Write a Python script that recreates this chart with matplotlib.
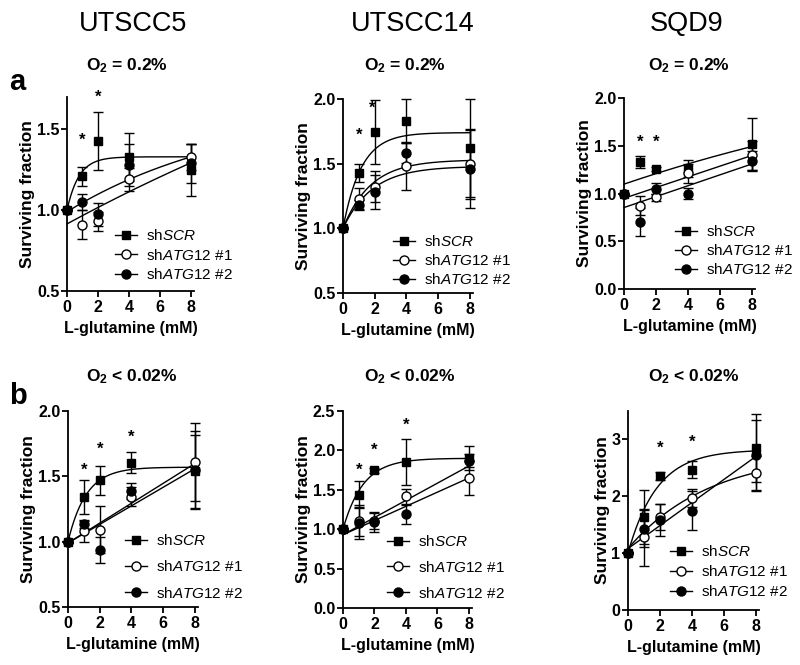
import numpy as np
import matplotlib
matplotlib.use('Agg')
import matplotlib.pyplot as plt

plt.rcParams['font.family'] = ['Liberation Sans', 'DejaVu Sans']
plt.rcParams['mathtext.fontset'] = 'custom'
plt.rcParams['mathtext.rm'] = 'Liberation Sans'
plt.rcParams['mathtext.it'] = 'Liberation Sans:italic'
plt.rcParams['mathtext.bf'] = 'Liberation Sans:bold'
plt.rcParams['mathtext.default'] = 'regular'

# glutamine doses (mM)
x = [0, 1, 2, 4, 8]
cell_lines = ['UTSCC5', 'UTSCC14', 'SQD9']
conditions = ['O$_2$ = 0.2%', 'O$_2$ < 0.02%']
series_labels = ['sh$\\mathit{SCR}$', 'sh$\\mathit{ATG12}$ #1', 'sh$\\mathit{ATG12}$ #2']

# surviving fraction (mean) and error, row a (0.2% O2)
utscc5_a_scr = [1.0, 1.21, 1.43, 1.33, 1.25]
utscc5_a_scr_err = [0, 0.06, 0.18, 0.15, 0.16]
utscc5_a_atg1 = [1.0, 0.91, 0.93, 1.19, 1.33]
utscc5_a_atg1_err = [0, 0.09, 0.06, 0.07, 0.08]
utscc5_a_atg2 = [1.0, 1.05, 0.975, 1.28, 1.29]
utscc5_a_atg2_err = [0, 0.05, 0.07, 0.13, 0.12]

utscc14_a_scr = [1.0, 1.43, 1.745, 1.83, 1.62]
utscc14_a_scr_err = [0, 0.07, 0.25, 0.17, 0.38]
utscc14_a_atg1 = [1.0, 1.23, 1.32, 1.48, 1.50]
utscc14_a_atg1_err = [0, 0.08, 0.12, 0.18, 0.27]
utscc14_a_atg2 = [1.0, 1.18, 1.28, 1.585, 1.46]
utscc14_a_atg2_err = [0, 0.04, 0.13, 0.08, 0.30]

sqd9_a_scr = [1.0, 1.33, 1.26, 1.26, 1.52]
sqd9_a_scr_err = [0, 0.06, 0.02, 0.09, 0.27]
sqd9_a_atg1 = [1.0, 0.87, 0.96, 1.21, 1.40]
sqd9_a_atg1_err = [0, 0.10, 0.04, 0.10, 0.15]
sqd9_a_atg2 = [1.0, 0.70, 1.05, 1.00, 1.34]
sqd9_a_atg2_err = [0, 0.15, 0.06, 0.06, 0.10]

# row b (<0.02% O2)
utscc5_b_scr = [1.0, 1.34, 1.47, 1.605, 1.54]
utscc5_b_scr_err = [0, 0.13, 0.11, 0.08, 0.28]
utscc5_b_atg1 = [1.0, 1.08, 1.09, 1.345, 1.61]
utscc5_b_atg1_err = [0, 0.08, 0.18, 0.07, 0.30]
utscc5_b_atg2 = [1.0, 1.135, 0.936, 1.388, 1.55]
utscc5_b_atg2_err = [0, 0.03, 0.10, 0.06, 0.30]

utscc14_b_scr = [1.0, 1.436, 1.746, 1.85, 1.90]
utscc14_b_scr_err = [0, 0.17, 0.03, 0.29, 0.15]
utscc14_b_atg1 = [1.0, 1.11, 1.10, 1.415, 1.65]
utscc14_b_atg1_err = [0, 0.20, 0.10, 0.10, 0.22]
utscc14_b_atg2 = [1.0, 1.076, 1.09, 1.19, 1.87]
utscc14_b_atg2_err = [0, 0.20, 0.13, 0.12, 0.08]

sqd9_b_scr = [1.0, 1.635, 2.35, 2.47, 2.85]
sqd9_b_scr_err = [0, 0.47, 0.07, 0.15, 0.60]
sqd9_b_atg1 = [1.0, 1.28, 1.635, 1.97, 2.41]
sqd9_b_atg1_err = [0, 0.50, 0.23, 0.15, 0.30]
sqd9_b_atg2 = [1.0, 1.43, 1.58, 1.75, 2.72]
sqd9_b_atg2_err = [0, 0.33, 0.28, 0.35, 0.62]

# curve fits: ('exp', y0, plateau, k) or ('lin', y0, slope)
fits_utscc5_a = [('exp', 1.0, 1.33, 1.3), ('exp', 0.99, 1.657, 0.089), ('exp', 0.915, 3.0, 0.025)]
fits_utscc14_a = [('exp', 1.0, 1.74, 0.87), ('exp', 1.0, 1.53, 0.57), ('exp', 1.0, 1.48, 0.54)]
fits_sqd9_a = [('exp', 1.098, 2.6, 0.038), ('lin', 0.95, 0.056), ('lin', 0.853, 0.057)]
fits_utscc5_b = [('exp', 1.0, 1.57, 0.87), ('lin', 0.99, 0.076), ('lin', 0.99, 0.071)]
fits_utscc14_b = [('exp', 1.0, 1.9, 0.78), ('lin', 0.93, 0.09), ('lin', 0.93, 0.109)]
fits_sqd9_b = [('exp', 1.0, 2.82, 0.55), ('exp', 1.08, 2.77, 0.196), ('lin', 1.08, 0.2025)]

# significance stars
stars_utscc5_a = ([1, 2], [1.43, 1.70])
stars_utscc14_a = ([1, 1.85], [1.72, 1.93])
stars_sqd9_a = ([1, 2], [1.54, 1.54])
stars_utscc5_b = ([1, 2, 4], [1.55, 1.71, 1.80])
stars_utscc14_b = ([1, 2, 4], [1.75, 2.0, 2.32])
stars_sqd9_b = ([2, 4], [2.84, 2.95])

W, H = 800, 665
fig = plt.figure(figsize=(W / 100, H / 100), dpi=100)


def add_ax(l, r, b, t):
    return fig.add_axes([l / W, 1 - b / H, (r - l) / W, (b - t) / H])


def fit_curve(p, xs):
    if p[0] == 'exp':
        return p[1] + (p[2] - p[1]) * (1 - np.exp(-p[3] * xs))
    return p[1] + p[2] * xs


panels = [
    dict(box=(67, 194, 291, 97), ylim=(0.5, 1.7), yticks=[0.5, 1.0, 1.5], fmt='%.1f',
         data=[(utscc5_a_scr, utscc5_a_scr_err), (utscc5_a_atg1, utscc5_a_atg1_err), (utscc5_a_atg2, utscc5_a_atg2_err)],
         fits=fits_utscc5_a, stars=stars_utscc5_a, leg=(115, 237, 19)),
    dict(box=(343, 473, 293, 99), ylim=(0.5, 2.0), yticks=[0.5, 1.0, 1.5, 2.0], fmt='%.1f',
         data=[(utscc14_a_scr, utscc14_a_scr_err), (utscc14_a_atg1, utscc14_a_atg1_err), (utscc14_a_atg2, utscc14_a_atg2_err)],
         fits=fits_utscc14_a, stars=stars_utscc14_a, leg=(393, 243, 18.5)),
    dict(box=(624, 755, 289, 98), ylim=(0.0, 2.0), yticks=[0.0, 0.5, 1.0, 1.5, 2.0], fmt='%.1f',
         data=[(sqd9_a_scr, sqd9_a_scr_err), (sqd9_a_atg1, sqd9_a_atg1_err), (sqd9_a_atg2, sqd9_a_atg2_err)],
         fits=fits_sqd9_a, stars=stars_sqd9_a, leg=(675, 233, 18.5)),
    dict(box=(68, 198, 607, 411), ylim=(0.5, 2.0), yticks=[0.5, 1.0, 1.5, 2.0], fmt='%.1f',
         data=[(utscc5_b_scr, utscc5_b_scr_err), (utscc5_b_atg1, utscc5_b_atg1_err), (utscc5_b_atg2, utscc5_b_atg2_err)],
         fits=fits_utscc5_b, stars=stars_utscc5_b, leg=(125, 542, 25.5)),
    dict(box=(343, 472, 608, 411), ylim=(0.0, 2.5), yticks=[0.0, 0.5, 1.0, 1.5, 2.0, 2.5], fmt='%.1f',
         data=[(utscc14_b_scr, utscc14_b_scr_err), (utscc14_b_atg1, utscc14_b_atg1_err), (utscc14_b_atg2, utscc14_b_atg2_err)],
         fits=fits_utscc14_b, stars=stars_utscc14_b, leg=(387, 543, 25)),
    dict(box=(628, 759, 610, 411), ylim=(0.0, 3.5), yticks=[0, 1, 2, 3], fmt='%d',
         data=[(sqd9_b_scr, sqd9_b_scr_err), (sqd9_b_atg1, sqd9_b_atg1_err), (sqd9_b_atg2, sqd9_b_atg2_err)],
         fits=fits_sqd9_b, stars=stars_sqd9_b, leg=(670, 553, 19.5)),
]

styles = [dict(marker='s', mfc='black', ms=6),
          dict(marker='o', mfc='white', ms=6.5),
          dict(marker='o', mfc='black', ms=6.5)]

xs = np.linspace(0, 8, 200)
fs_tick = 11.5
fs_lab = 11.5
fs_leg = 11
for p in panels:
    l, r, b, t = p['box']
    ax = add_ax(l, r, b, t)
    handles = []
    for (y, e), st, f, lab in zip(p['data'], styles, p['fits'], series_labels):
        ax.plot(xs, fit_curve(f, xs), color='black', lw=1.0, clip_on=False)
        ax.errorbar(x, y, yerr=e, fmt='none', ecolor='black', elinewidth=1.0,
                    capsize=3.5, capthick=1.0, clip_on=False)
        ax.plot(x, y, ls='none', marker=st['marker'], mfc=st['mfc'], mec='black',
                mew=1.0, ms=st['ms'], clip_on=False, zorder=4)
        h, = ax.plot([], [], color='black', lw=1.0, marker=st['marker'], mfc=st['mfc'],
                     mec='black', mew=1.0, ms=st['ms'])
        handles.append(h)
    sx, sy = p['stars']
    for xi, yi in zip(sx, sy):
        ax.text(xi, yi, '*', ha='center', va='center', fontsize=12, fontweight='bold',
                clip_on=False)
    ax.set_xlim(0, 8.2)
    ax.set_ylim(*p['ylim'])
    ax.set_xticks([0, 2, 4, 6, 8])
    ax.set_yticks(p['yticks'])
    ax.yaxis.set_major_formatter(matplotlib.ticker.FormatStrFormatter(p['fmt']))
    for s in ['top', 'right']:
        ax.spines[s].set_visible(False)
    for s in ['left', 'bottom']:
        ax.spines[s].set_linewidth(1.3)
    ax.tick_params(direction='out', length=4, width=1.3, labelsize=fs_tick, pad=1.5)
    ax.tick_params(axis='x', pad=2.5)
    for lbl in ax.get_xticklabels() + ax.get_yticklabels():
        lbl.set_fontweight('bold')
    ax.set_xlabel('L-glutamine (mM)', fontsize=fs_lab, fontweight='bold', labelpad=4)
    ax.set_ylabel('Surviving fraction', fontsize=12.5, fontweight='bold', labelpad=1)
    ax.patch.set_alpha(0)

    hx, hy, gap = p['leg']
    ax_h = b - t
    ax_w = r - l
    anchor = ((hx - l) / ax_w, (b - (hy - 9)) / ax_h)
    ax.legend(handles, series_labels, loc='upper left', bbox_to_anchor=anchor,
              frameon=False, fontsize=fs_leg, borderpad=0, borderaxespad=0,
              handlelength=1.45, handletextpad=0.55,
              labelspacing=(gap - fs_leg * 1.33) / (fs_leg * 1.33))

# column titles
for cx, name in zip([133, 413, 687], cell_lines):
    fig.text(cx / W, 1 - 24 / H, name, ha='center', va='center', fontsize=19.5)

# condition subtitles
for cx in [127, 405, 689]:
    fig.text(cx / W, 1 - 66 / H, conditions[0], ha='center', va='center',
             fontsize=12.5, fontweight='bold')
for cx in [132, 410, 694]:
    fig.text(cx / W, 1 - 377 / H, conditions[1], ha='center', va='center',
             fontsize=12.5, fontweight='bold')

fig.text(9 / W, 1 - 82 / H, 'a', ha='left', va='center', fontsize=21, fontweight='bold')
fig.text(9 / W, 1 - 396 / H, 'b', ha='left', va='center', fontsize=21, fontweight='bold')

fig.savefig('out.png', dpi=100)
